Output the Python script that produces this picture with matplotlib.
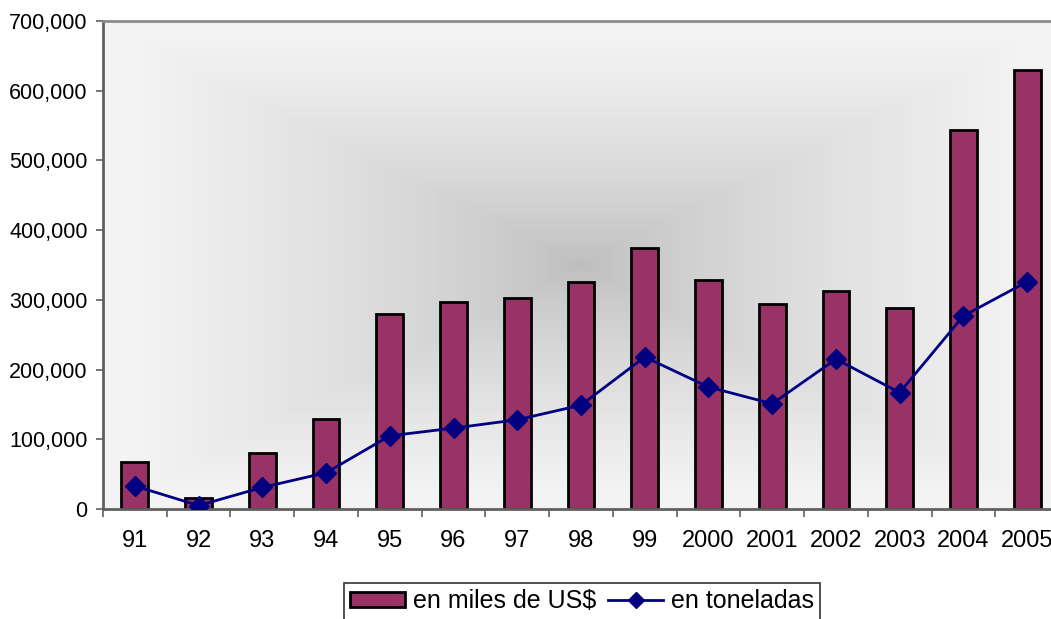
import numpy as np
import matplotlib
matplotlib.use('Agg')
import matplotlib.pyplot as plt
import matplotlib.ticker as ticker
from matplotlib.lines import Line2D
from matplotlib.patches import Patch

plt.rcParams['font.family'] = ['Liberation Sans', 'DejaVu Sans']

years = ["91", "92", "93", "94", "95", "96", "97", "98", "99",
         "2000", "2001", "2002", "2003", "2004", "2005"]
miles_usd = [67000, 16000, 80000, 129000, 280000, 297000, 302000, 326000,
             374000, 328000, 294000, 312000, 289000, 543000, 630000]
toneladas = [33000, 5000, 31000, 52000, 105000, 116000, 128000, 149000,
             218000, 175000, 151000, 215000, 167000, 277000, 326000]

BAR_COLOR = "#993366"
LINE_COLOR = "#000080"
AXIS_GRAY = "#606060"

fig = plt.figure(figsize=(10.51, 6.19), dpi=100)
ax = fig.add_axes([103 / 1051, 110 / 619, 956 / 1051, 488 / 619])

# rectangular "from centre" gradient behind the bars
nx, ny = 400, 240
gx = np.abs(np.linspace(-1, 1, nx))[None, :]
gy = np.abs(np.linspace(-1, 1, ny))[:, None]
d = np.clip(np.maximum(gx, gy) * 1.05, 0, 1)
shade = 0.74 + (0.955 - 0.74) * d ** 0.75
ax.imshow(shade, cmap="gray", vmin=0, vmax=1, aspect="auto",
          extent=(-0.5, 14.5, 0, 700000), zorder=0, interpolation="nearest")

x = np.arange(len(years))
ax.bar(x, miles_usd, width=0.42, color=BAR_COLOR, edgecolor="black",
       linewidth=2, zorder=2)
ax.plot(x, toneladas, color=LINE_COLOR, linewidth=2, marker="D",
        markersize=10, zorder=3)

ax.set_xlim(-0.5, 14.5)
ax.set_ylim(0, 700000)
ax.yaxis.set_major_locator(ticker.MultipleLocator(100000))
ax.yaxis.set_major_formatter(ticker.FuncFormatter(lambda v, p: f"{int(v):,}"))
ax.set_xticks(x)
ax.set_xticklabels(years)
ax.set_xticks(np.arange(-0.5, 15, 1), minor=True)

ax.tick_params(axis="x", which="major", length=0, pad=15, labelsize=17)
ax.tick_params(axis="x", which="minor", length=6, width=1.2,
               color=AXIS_GRAY, direction="out")
ax.tick_params(axis="y", length=5, width=1.2, color=AXIS_GRAY,
               pad=6, labelsize=15.5, direction="out")

for side in ["left", "bottom"]:
    ax.spines[side].set_color(AXIS_GRAY)
    ax.spines[side].set_linewidth(2)
ax.spines["top"].set_color("#8c8c8c")
ax.spines["top"].set_linewidth(2)
ax.spines["right"].set_visible(False)

handles = [
    Patch(facecolor=BAR_COLOR, edgecolor="black", linewidth=2),
    Line2D([0], [0], color=LINE_COLOR, linewidth=2, marker="D", markersize=8),
]
leg = fig.legend(handles, ["en miles de US$", "en toneladas"],
                 loc="upper center", bbox_to_anchor=(582 / 1051, 1 - 583 / 619),
                 ncol=2, fontsize=18, frameon=True, fancybox=False,
                 edgecolor="black", handlelength=2.2, handleheight=0.58,
                 columnspacing=0.5, handletextpad=0.3, borderpad=0.25,
                 borderaxespad=0)
leg.get_frame().set_linewidth(1.2)

fig.savefig("out.png", dpi=100)
